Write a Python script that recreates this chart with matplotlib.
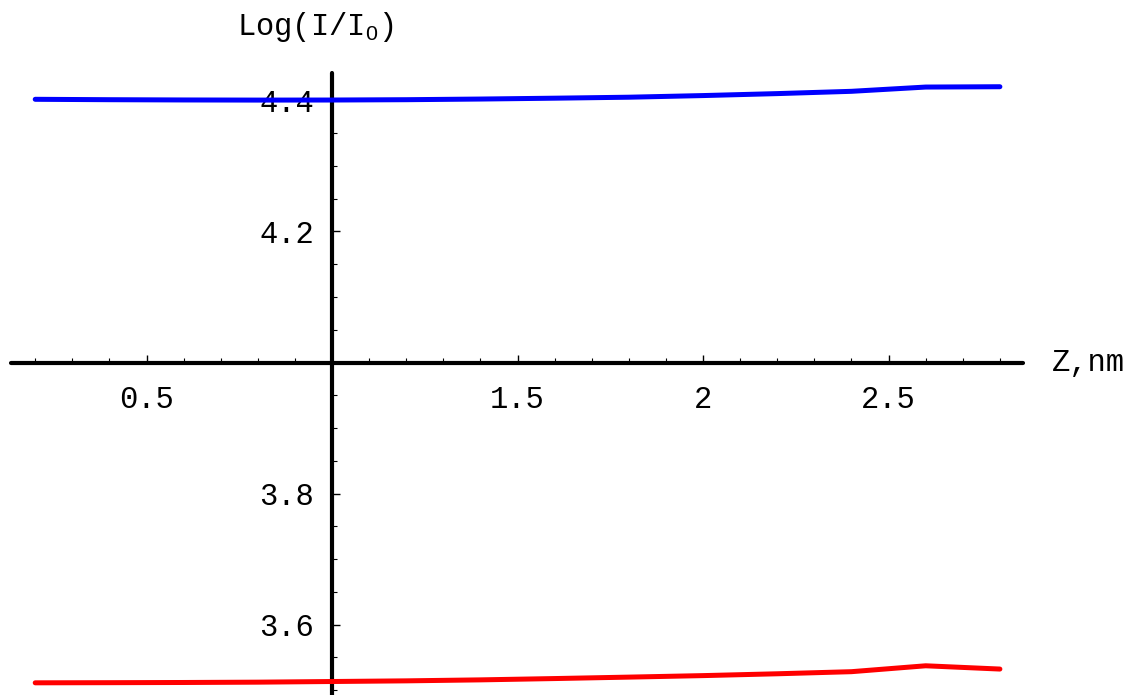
import numpy as np
import matplotlib
matplotlib.use('Agg')
from matplotlib import pyplot as plt
from matplotlib.ticker import FixedLocator, FuncFormatter

plt.rcParams['font.family'] = ['Liberation Mono', 'DejaVu Sans']
plt.rcParams['mathtext.fontset'] = 'custom'
plt.rcParams['mathtext.rm'] = 'Liberation Sans'

# depth z (nm) and log intensity for the two curves
z = [0.2, 0.4, 0.6, 0.8, 1.0, 1.2, 1.4, 1.6, 1.8, 2.0, 2.2, 2.4, 2.6, 2.8]
log_blue = [4.4018, 4.4012, 4.4008, 4.4006, 4.4007, 4.4012, 4.4022, 4.4035,
            4.4050, 4.4075, 4.4105, 4.4140, 4.4205, 4.4210]
log_red = [3.5110, 3.5112, 3.5115, 3.5120, 3.5130, 3.5140, 3.5155, 3.5175,
           3.5197, 3.5220, 3.5248, 3.5280, 3.5370, 3.5320]

x_ticks = [0.5, 1.5, 2, 2.5]
y_ticks = [3.6, 3.8, 4.2, 4.4]

fig = plt.figure(figsize=(11.42, 6.95), dpi=100)
ax = fig.add_axes([0, 0, 1, 1])
ax.set_xlim(0.1051, 3.183)
ax.set_ylim(3.4924, 4.5534)

ax.plot(z, log_blue, color='#0000ff', lw=3.6, solid_capstyle='round', solid_joinstyle='round')
ax.plot(z, log_red, color='#ff0000', lw=3.6, solid_capstyle='round', solid_joinstyle='round')

# axes cross at (1, 4) like a Mathematica plot
for s in ['top', 'right']:
    ax.spines[s].set_visible(False)
ax.spines['left'].set_position(('data', 1.0))
ax.spines['bottom'].set_position(('data', 4.0))
ax.spines['left'].set_bounds(3.4, 4.442)
ax.spines['bottom'].set_bounds(0.135, 2.862)
for s in ['left', 'bottom']:
    ax.spines[s].set_linewidth(3.0)
    ax.spines[s].set_capstyle('round')
    ax.spines[s].set_zorder(1)

# only ticks that sit on the drawn axis lines
ax.xaxis.set_major_locator(FixedLocator(np.arange(0.5, 2.51, 0.5)))
ax.xaxis.set_minor_locator(FixedLocator(np.arange(0.2, 2.81, 0.1)))
ax.yaxis.set_major_locator(FixedLocator(np.arange(3.6, 4.41, 0.2)))
ax.yaxis.set_minor_locator(FixedLocator(np.arange(3.5, 4.41, 0.05)))
ax.xaxis.set_major_formatter(FuncFormatter(lambda v, p: '%g' % round(v, 2) if round(v, 2) in x_ticks else ''))
ax.yaxis.set_major_formatter(FuncFormatter(lambda v, p: '%g' % round(v, 2) if round(v, 2) in y_ticks else ''))

ax.tick_params(which='major', direction='in', length=6, width=1, labelsize=22)
ax.tick_params(axis='x', which='major', pad=16)
ax.tick_params(axis='y', which='major', pad=13)
ax.tick_params(which='minor', direction='in', length=3.5, width=0.8)

fig.text(237 / 1142, 1 - 27 / 695, 'Log(I/I$_{0}$)', fontsize=22, ha='left', va='center')
fig.text(1052 / 1142, 1 - 363 / 695, 'Z,nm', fontsize=22, ha='left', va='center')

fig.savefig('out.png', dpi=100)
